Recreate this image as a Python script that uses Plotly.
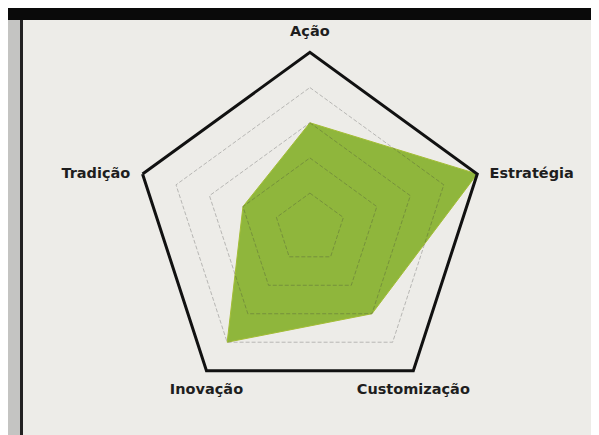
import plotly.graph_objects as go

# ==========================================================
# Data
# ==========================================================

categories = ["Ação", "Estratégia", "Customização", "Inovação", "Tradição"]
scores = [3, 5, 3, 4, 2]
grid_levels = [1, 2, 3, 4]
max_score = 5

label_positions = ["top center", "middle right", "bottom center",
                   "bottom center", "middle left"]

closed_cats = categories + categories[:1]

fig = go.Figure()

fig.add_trace(
    go.Scatterpolar(
        r=scores + scores[:1],
        theta=closed_cats,
        fill="toself",
        fillcolor="#8fb63c",
        line=dict(color="#a3bd35", width=1),
        mode="lines",
        hoverinfo="skip"
    )
)

# inner rings, drawn over the fill so they show darker on the green
for level in grid_levels:
    fig.add_trace(
        go.Scatterpolar(
            r=[level] * len(closed_cats),
            theta=closed_cats,
            mode="lines",
            line=dict(color="rgba(60,60,60,0.3)", width=1, dash="4px,2px"),
            hoverinfo="skip"
        )
    )

# category labels sitting at the outer vertices
fig.add_trace(
    go.Scatterpolar(
        r=[max_score] * len(categories),
        theta=categories,
        mode="markers+text",
        text=categories,
        textposition=label_positions,
        textfont=dict(family="DejaVu Sans", size=14.5,
                      color="#1e1e1e", weight="bold"),
        marker=dict(size=18, color="rgba(0,0,0,0)"),
        cliponaxis=False,
        hoverinfo="skip"
    )
)

fig.update_layout(
    width=599,
    height=435,
    showlegend=False,
    paper_bgcolor="#edece8",
    margin=dict(l=0, r=0, t=0, b=0),
    polar=dict(
        domain=dict(x=[0.209, 0.799], y=[0.089, 0.898]),
        bgcolor="rgba(0,0,0,0)",
        gridshape="linear",
        radialaxis=dict(
            range=[0, max_score],
            showgrid=False,
            showline=False,
            showticklabels=False,
            ticks=""
        ),
        angularaxis=dict(
            direction="clockwise",
            rotation=90,
            showgrid=False,
            showline=True,
            linecolor="#111111",
            linewidth=3,
            ticks="",
            showticklabels=False
        )
    ),
    shapes=[
        dict(type="rect", xref="paper", yref="paper",
             x0=0, x1=1, y0=1 - 12 / 435, y1=1,
             fillcolor="#0a0a0a", line=dict(width=0)),
        dict(type="rect", xref="paper", yref="paper",
             x0=0, x1=12 / 599, y0=0, y1=1 - 12 / 435,
             fillcolor="#c4c4c2", line=dict(width=0)),
        dict(type="rect", xref="paper", yref="paper",
             x0=12 / 599, x1=15 / 599, y0=0, y1=1 - 12 / 435,
             fillcolor="#222222", line=dict(width=0))
    ]
)

fig.write_html("out.html")
